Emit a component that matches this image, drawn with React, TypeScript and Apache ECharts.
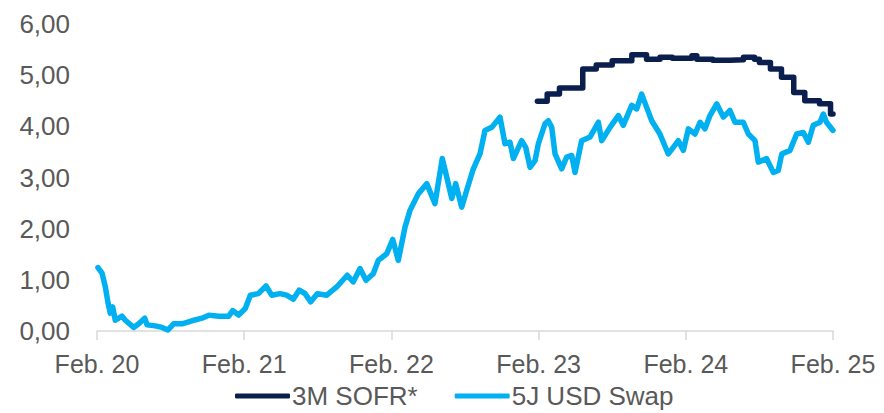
import React, { useEffect, useRef } from "react";
import * as echarts from "echarts";

// Months since Feb 2020 (x) and rate in % (y)
const SWAP_MONTHS = [
  0.08, 0.41, 0.68, 0.9, 1.08, 1.28, 1.49, 2.04, 2.31, 2.99, 3.4, 3.89, 4.08, 4.75, 5.3, 5.79, 6.25, 6.93, 7.74,
  8.56, 9.11, 9.92, 10.74, 11.06, 11.55, 12.09, 12.5, 13.15, 13.78, 14.24, 14.92, 15.46, 16.0, 16.49, 16.96,
  17.42, 17.96, 18.73, 19.54, 20.4, 20.89, 21.44, 21.93, 22.52, 22.93, 23.62, 24.11, 24.56, 25.11, 25.52,
  26.19, 26.88, 27.55, 28.15, 28.51, 28.92, 29.24, 29.73, 30.14, 30.68, 31.22, 31.63, 32.18, 32.85, 33.26,
  33.67, 33.94, 34.62, 34.95, 35.3, 35.71, 35.98, 36.52, 36.79, 37.07, 37.34, 37.88, 38.29, 38.7, 38.97,
  39.51, 40.19, 40.87, 41.15, 41.82, 42.5, 42.9, 43.59, 44.0, 44.4, 44.81, 45.22, 45.89, 46.57, 46.98,
  47.39, 47.8, 48.21, 48.75, 49.16, 49.56, 49.97, 50.52, 51.06, 51.6, 52.01, 52.69, 53.1, 53.64, 53.91,
  54.59, 55.13, 55.54, 55.82, 56.49, 57.04, 57.58, 57.99, 58.39, 58.94, 59.21, 59.47, 60.0,
];
const SWAP_VALUES = [
  1.24, 1.13, 0.86, 0.55, 0.35, 0.47, 0.21, 0.29, 0.21, 0.07, 0.14, 0.25, 0.12, 0.1, 0.07, 0.02, 0.14, 0.14, 0.2,
  0.25, 0.31, 0.29, 0.29, 0.4, 0.31, 0.44, 0.7, 0.73, 0.88, 0.7, 0.73, 0.7, 0.62, 0.8, 0.73,
  0.57, 0.73, 0.7, 0.86, 1.09, 0.96, 1.22, 0.99, 1.12, 1.38, 1.51, 1.79, 1.38, 2.03, 2.36,
  2.68, 2.88, 2.49, 3.37, 3.01, 2.59, 2.88, 2.42, 2.75, 3.17, 3.46, 3.92, 3.98, 4.18, 3.66,
  3.69, 3.37, 3.72, 3.59, 3.2, 3.33, 3.66, 4.05, 4.11, 3.98, 3.46, 3.17, 3.4, 3.43, 3.1,
  3.72, 3.79, 4.08, 3.72, 3.98, 4.21, 4.02, 4.41, 4.34, 4.63, 4.37, 4.11, 3.85, 3.46, 3.59,
  3.72, 3.53, 3.95, 3.85, 4.08, 3.95, 4.21, 4.44, 4.18, 4.31, 4.08, 4.08, 3.85, 3.72, 3.3,
  3.37, 3.1, 3.14, 3.46, 3.53, 3.85, 3.88, 3.69, 4.02, 4.08, 4.24, 4.08, 3.92,
];

const SOFR_MONTHS = [
  35.9, 36.7, 37.7, 39.6, 40.7, 42.0, 43.6, 44.8, 45.9, 46.9, 48.5, 48.9, 50.2, 51.6, 52.7, 53.6, 54.0,
  54.9, 55.8, 56.8, 57.7, 58.9, 59.8, 60.0,
];
const SOFR_VALUES = [
  4.49, 4.63, 4.75, 5.12, 5.2, 5.28, 5.4, 5.31, 5.35, 5.33, 5.38, 5.31, 5.29, 5.3, 5.35, 5.31, 5.25,
  5.12, 4.96, 4.66, 4.5, 4.44, 4.24, 4.24,
];

const X_TICK_LABELS = ["Feb. 20", "Feb. 21", "Feb. 22", "Feb. 23", "Feb. 24", "Feb. 25"];
const SERIES_NAMES = ["3M SOFR*", "5J USD Swap"];

const FONT = "'Liberation Sans', Arial, sans-serif";
const TEXT_COLOR = "#595959";

export default function App() {
  const ref = useRef<HTMLDivElement>(null);

  useEffect(() => {
    if (!ref.current) return;
    const chart = echarts.init(ref.current, null, { renderer: "svg" });
    const swap = SWAP_MONTHS.map((m, i) => [m, SWAP_VALUES[i]]);
    const sofr = SOFR_MONTHS.map((m, i) => [m, SOFR_VALUES[i]]);
    chart.setOption({
      animation: false,
      textStyle: { fontFamily: FONT },
      grid: { left: 97, right: 51, top: 24, bottom: 82, containLabel: false },
      legend: {
        data: SERIES_NAMES.map((n) => ({ name: n, icon: "roundRect" })),
        left: 230,
        top: 378,
        itemWidth: 55,
        itemHeight: 5,
        itemGap: 37,
        textStyle: { color: TEXT_COLOR, fontSize: 26, fontFamily: FONT, padding: [0, 0, 0, -3] },
      },
      xAxis: {
        type: "value",
        min: 0,
        max: 60,
        interval: 12,
        axisLine: { show: true, lineStyle: { color: "#d9d9d9", width: 1.5 } },
        axisTick: { show: true, length: 9, lineStyle: { color: "#d9d9d9", width: 1.5 } },
        splitLine: { show: false },
        axisLabel: {
          color: TEXT_COLOR,
          fontSize: 25,
          fontFamily: FONT,
          margin: 20,
          formatter: (v: number) => X_TICK_LABELS[Math.round(v / 12)] ?? "",
        },
      },
      yAxis: {
        type: "value",
        min: 0,
        max: 6,
        interval: 1,
        axisLine: { show: false },
        axisTick: { show: false },
        splitLine: { show: false },
        axisLabel: {
          color: TEXT_COLOR,
          fontSize: 26,
          fontFamily: FONT,
          margin: 27,
          formatter: (v: number) => v.toFixed(2).replace(".", ","),
        },
      },
      series: [
        {
          name: SERIES_NAMES[0],
          type: "line",
          step: "end",
          data: sofr,
          showSymbol: false,
          symbol: "none",
          lineStyle: { color: "#0b1f4e", width: 5.5, cap: "round", join: "round" },
          itemStyle: { color: "#0b1f4e" },
          z: 3,
        },
        {
          name: SERIES_NAMES[1],
          type: "line",
          data: swap,
          showSymbol: false,
          symbol: "none",
          lineStyle: { color: "#00b0f0", width: 5.5, cap: "round", join: "round" },
          itemStyle: { color: "#00b0f0" },
          z: 2,
        },
      ],
    });
    return () => chart.dispose();
  }, []);

  return (
    <div
      ref={ref}
      style={{ position: "fixed", left: 0, top: 0, width: 884, height: 413, background: "#fff" }}
    />
  );
}
